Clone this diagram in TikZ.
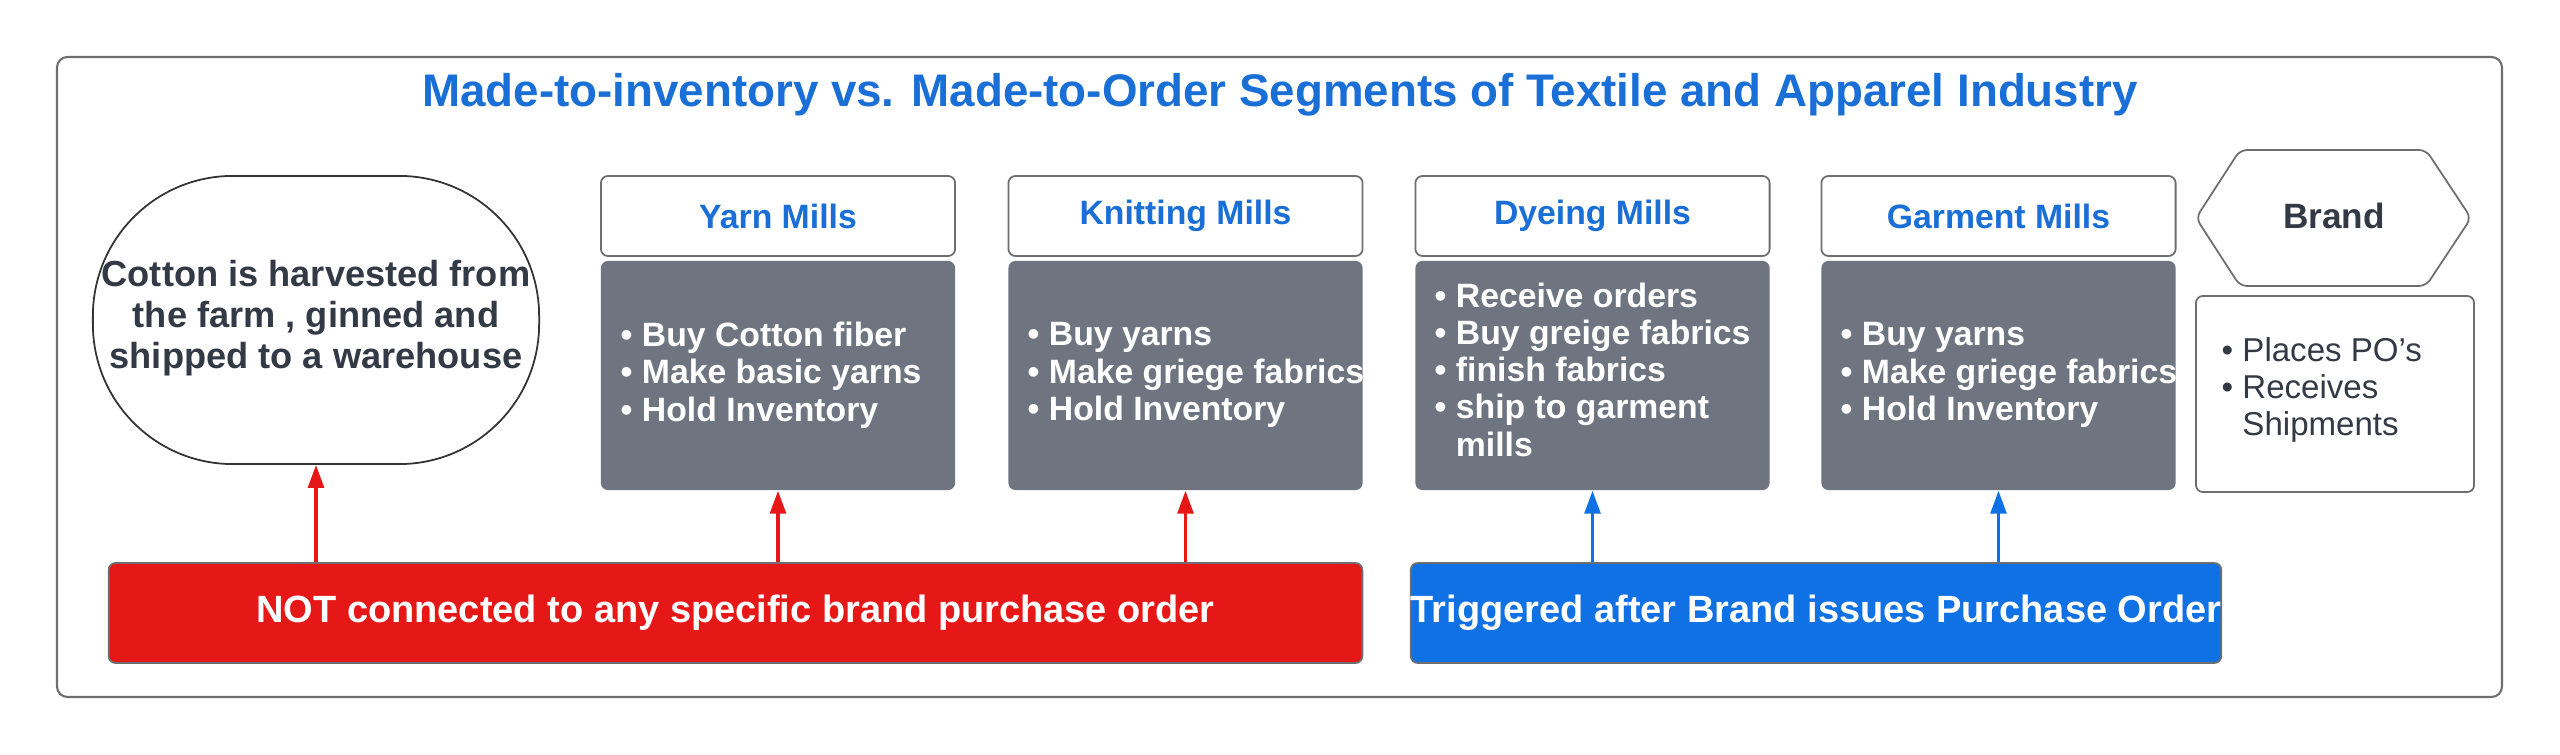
\documentclass[tikz,border=0pt]{standalone}
\usepackage{fontspec}
\setmainfont{Liberation Sans}
\usetikzlibrary{arrows.meta}
\definecolor{tblue}{HTML}{1A6FD6}
\definecolor{bblue}{HTML}{1071E5}
\definecolor{rred}{HTML}{E61717}
\definecolor{bgray}{HTML}{6F7580}
\definecolor{dtext}{HTML}{333A45}
\definecolor{frame}{HTML}{6E6E6E}
\begin{document}
\begin{tikzpicture}[x=0.01cm,y=-0.01cm,
  hdr/.style={draw=frame,line width=0.5pt,rounded corners=2pt,fill=white,minimum width=3.54cm,minimum height=0.80cm,inner sep=0pt,text=tblue,font=\bfseries\fontsize{9.6}{11}\selectfont},
  body/.style={fill=bgray,rounded corners=2pt,minimum width=3.54cm,minimum height=2.29cm,inner sep=0pt},
  blist/.style={text=white,align=left,inner sep=0pt,font=\bfseries\fontsize{9.6}{10.6}\selectfont},
  bar/.style={draw=frame,line width=0.5pt,rounded corners=2pt,minimum height=1.0cm,inner sep=0pt,text=white,font=\bfseries\fontsize{10.8}{12}\selectfont},
  rarr/.style={draw=rred,line width=0.9pt,-{Triangle[length=6.5pt,width=4.5pt]}},
  barr/.style={draw=bblue,line width=0.9pt,-{Triangle[length=6.5pt,width=4.5pt]}}]
\useasboundingbox (0,0) rectangle (2560,755);
\draw[frame,line width=0.6pt,rounded corners=3pt] (57,57) rectangle (2502,697);
\node[text=tblue,font=\bfseries\fontsize{13}{15}\selectfont] (title) at (1280,95) {Made-to-inventory vs. Made-to-Order Segments of Textile and Apparel Industry};
% cotton
\node[draw=black!80,line width=0.5pt,rounded corners=1.4cm,minimum width=4.46cm,minimum height=2.88cm,inner sep=0pt] (cotton) at (316,320) {};
\node[text=dtext,align=center,font=\bfseries\fontsize{10.3}{11.7}\selectfont] (cottxt) at (316,318) {Cotton is harvested from\\the farm , ginned and\\shipped to a warehouse};
% mills
\node[hdr] (yarnh) at (778,216) {Yarn Mills};
\node[body] (yarnb) at (778,375.5) {};
\node[blist,anchor=west] (yarnt) at (620,375) {\textbullet\ Buy Cotton fiber\\\textbullet\ Make basic yarns\\\textbullet\ Hold Inventory};
\node[hdr] (knith) at (1185.5,216) {Knitting Mills};
\node[body] (knitb) at (1185.5,375.5) {};
\node[blist,anchor=west] (knitt) at (1027,375) {\textbullet\ Buy yarns\\\textbullet\ Make griege fabrics\\\textbullet\ Hold Inventory};
\node[hdr] (dyeh) at (1592.5,216) {Dyeing Mills};
\node[body] (dyeb) at (1592.5,375.5) {};
\node[blist,anchor=north west] (dyet) at (1434,282) {\textbullet\ Receive orders\\\textbullet\ Buy greige fabrics\\\textbullet\ finish fabrics\\\textbullet\ ship to garment\\\hphantom{\textbullet\ }mills};
\node[hdr] (garmh) at (1998.5,216) {Garment Mills};
\node[body] (garmb) at (1998.5,375.5) {};
\node[blist,anchor=west] (garmt) at (1840,375) {\textbullet\ Buy yarns\\\textbullet\ Make griege fabrics\\\textbullet\ Hold Inventory};
% brand
\node[text=dtext,font=\bfseries\fontsize{10}{12}\selectfont] (brand) at (2334,216) {Brand};
\draw[frame,line width=0.5pt,rounded corners=2pt] (2196,218) -- (2240,150) -- (2426,150) -- (2471,218) -- (2426,286) -- (2240,286) -- cycle;
\node[draw=frame,line width=0.5pt,rounded corners=2pt,minimum width=2.78cm,minimum height=1.96cm,inner sep=0pt] (brandb) at (2335,394) {};
\node[text=dtext,align=left,inner sep=0pt,anchor=west,font=\fontsize{9.4}{10.6}\selectfont] (brandt) at (2221,390) {\textbullet\ Places PO's\\\textbullet\ Receives\\\hphantom{\textbullet\ }Shipments};
% bars
\node[bar,fill=rred,minimum width=12.53cm] (red) at (735.5,613) {NOT connected to any specific brand purchase order};
\node[bar,fill=bblue,minimum width=8.0cm] (blue) at (1816,613) {Triggered after Brand issues Purchase Order};
% arrows
\draw[rarr] (red.north -| cotton.south) -- (cotton.south);
\draw[rarr] (red.north -| yarnb.south) -- (yarnb.south);
\draw[rarr] (red.north -| knitb.south) -- (knitb.south);
\draw[barr] (blue.north -| dyeb.south) -- (dyeb.south);
\draw[barr] (blue.north -| garmb.south) -- (garmb.south);
\end{tikzpicture}
\end{document}
